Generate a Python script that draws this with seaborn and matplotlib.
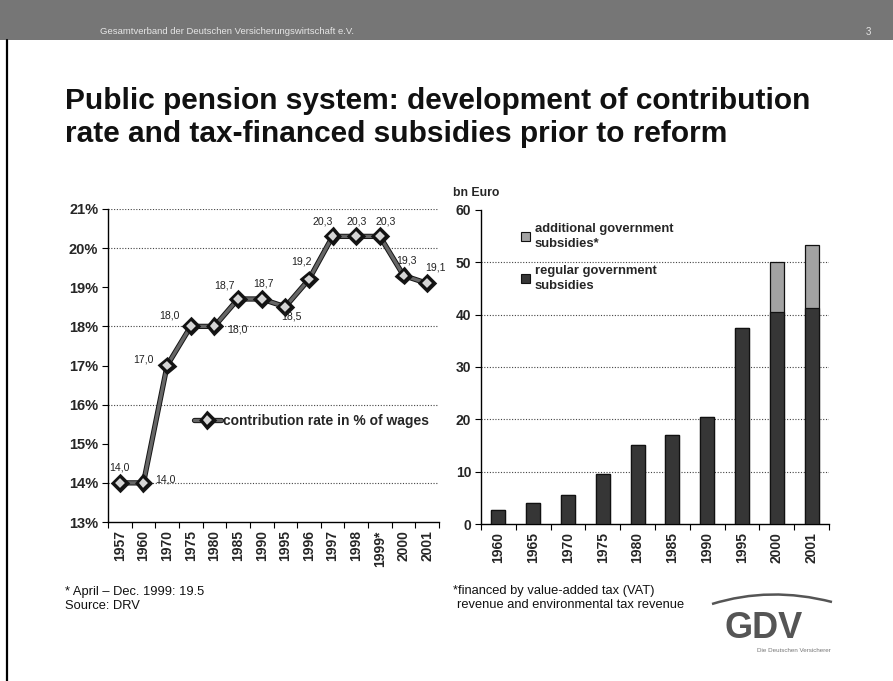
import matplotlib
matplotlib.use("Agg")
import matplotlib.pyplot as plt
import matplotlib.patheffects as pe
from matplotlib.lines import Line2D
from matplotlib.patches import Rectangle, PathPatch
from matplotlib.path import Path
import seaborn as sns
import pandas as pd

sns.set_theme(style="white")
plt.rcParams["font.family"] = ["Liberation Sans", "DejaVu Sans"]

# Contribution rate (% of wages)
rate_years = ["1957", "1960", "1970", "1975", "1980", "1985", "1990", "1995",
              "1996", "1997", "1998", "1999*", "2000", "2001"]
rate_values = [14.0, 14.0, 17.0, 18.0, 18.0, 18.7, 18.7, 18.5,
               19.2, 20.3, 20.3, 20.3, 19.3, 19.1]
rate_label_offsets = [(0, 15), (22, 3), (-24, 6), (-21, 11), (23, -3), (-14, 13),
                      (2, 15), (6, -10), (-8, 18), (-10, 15), (0, 15), (6, 15),
                      (3, 15), (8, 16)]

# Tax-financed subsidies (bn Euro)
subsidy_years = ["1960", "1965", "1970", "1975", "1980", "1985", "1990",
                 "1995", "2000", "2001"]
regular_subsidies = [2.7, 4.1, 5.6, 9.5, 15.1, 17.1, 20.4, 37.5, 40.6, 41.2]
additional_subsidies = [0, 0, 0, 0, 0, 0, 0, 0, 9.4, 12.1]

W, H = 893, 681
fig = plt.figure(figsize=(W / 100, H / 100), dpi=100)
fig.patch.set_facecolor("white")


def fx(px):
    return px / W


def fy(py):
    return 1 - py / H


# Header band
fig.add_artist(Rectangle((0, fy(40)), 1, 40 / H, transform=fig.transFigure,
                         facecolor="#767676", edgecolor="none", zorder=0))
fig.text(fx(100), fy(32), "Gesamtverband der Deutschen Versicherungswirtschaft e.V.",
         fontsize=6.8, color="#e6e6e6", va="center", ha="left")
fig.text(fx(866), fy(32), "3", fontsize=7, color="#e6e6e6", va="center", ha="left")
fig.add_artist(Line2D([fx(7), fx(7)], [0, fy(40)], transform=fig.transFigure,
                      color="black", lw=1.6))

# Title
fig.text(fx(65), fy(101), "Public pension system: development of contribution",
         fontsize=21.5, fontweight="bold", color="#111", va="center", ha="left")
fig.text(fx(65), fy(134), "rate and tax-financed subsidies prior to reform",
         fontsize=21.5, fontweight="bold", color="#111", va="center", ha="left")

# ---------- Left: contribution rate ----------
ax1 = fig.add_axes([fx(108), fy(522), fx(439) - fx(108), fy(209) - fy(522)])
rate_df = pd.DataFrame({"pos": range(len(rate_years)), "rate": rate_values})
sns.lineplot(data=rate_df, x="pos", y="rate", ax=ax1, color="#666666", lw=2.4,
             marker="D", markersize=6, markerfacecolor="#d5d5d5",
             markeredgecolor="#111111", markeredgewidth=1.1,
             label="contribution rate in % of wages",
             path_effects=[pe.Stroke(linewidth=3.8, foreground="#151515"), pe.Normal()])
ax1.set_xlim(-0.5, len(rate_years) - 0.5)
ax1.set_ylim(13, 21)
ax1.set_yticks(range(13, 22))
ax1.set_yticklabels([f"{v}%" for v in range(13, 22)], fontsize=10.5, fontweight="bold")
ax1.set_xticks(range(len(rate_years)))
ax1.set_xticklabels(rate_years, rotation=90, fontsize=10, fontweight="bold")
ax1.set_xticks([i + 0.5 for i in range(-1, len(rate_years))], minor=True)
ax1.tick_params(axis="x", which="major", length=0, pad=6)
ax1.tick_params(axis="x", which="minor", length=4, direction="out", color="black", width=0.8, bottom=True)
ax1.tick_params(axis="y", length=4, direction="out", color="black", width=0.8, left=True, pad=3)
ax1.set_xlabel("")
ax1.set_ylabel("")
for g in [14, 16, 18, 20, 21]:
    ax1.axhline(g, color="#444", lw=0.8, ls=(0, (1, 1.5)), zorder=0)
for s in ["top", "right"]:
    ax1.spines[s].set_visible(False)
for s in ["left", "bottom"]:
    ax1.spines[s].set_color("black")
    ax1.spines[s].set_linewidth(1.0)
for i, (v, off) in enumerate(zip(rate_values, rate_label_offsets)):
    ax1.annotate(f"{v:.1f}".replace(".", ","), (i, v), xytext=off,
                 textcoords="offset pixels", ha="center", va="center",
                 fontsize=7.6, color="#222")
ax1_w = fx(439) - fx(108)
ax1_h = fy(209) - fy(522)
ax1.legend(loc="center left",
           bbox_to_anchor=((fx(188) - fx(108)) / ax1_w, (fy(421) - fy(522)) / ax1_h),
           frameon=False, handlelength=2.0, handletextpad=0.15, borderaxespad=0,
           prop={"weight": "bold", "size": 10})

# ---------- Right: subsidies ----------
ax2 = fig.add_axes([fx(481), fy(524), fx(829) - fx(481), fy(210) - fy(524)])
sub_df = pd.DataFrame({"year": subsidy_years,
                       "regular": regular_subsidies,
                       "total": [r + a for r, a in zip(regular_subsidies, additional_subsidies)]})
sns.barplot(data=sub_df, x="year", y="total", ax=ax2, color="#a3a3a3", width=0.4,
            edgecolor="#111", linewidth=0.9, saturation=1, zorder=2)
sns.barplot(data=sub_df, x="year", y="regular", ax=ax2, color="#363636", width=0.4,
            edgecolor="#111", linewidth=0.9, saturation=1, zorder=3)
ax2.set_xlim(-0.5, len(subsidy_years) - 0.5)
ax2.set_ylim(0, 60)
ax2.set_yticks(range(0, 61, 10))
ax2.set_yticklabels([str(v) for v in range(0, 61, 10)], fontsize=10, fontweight="bold")
ax2.set_xticks(range(len(subsidy_years)))
ax2.set_xticklabels(subsidy_years, rotation=90, fontsize=10, fontweight="bold")
ax2.set_xticks([i + 0.5 for i in range(-1, len(subsidy_years))], minor=True)
ax2.tick_params(axis="x", which="major", length=0, pad=6)
ax2.tick_params(axis="x", which="minor", length=4, direction="out", color="black", width=0.8, bottom=True)
ax2.tick_params(axis="y", length=4, direction="out", color="black", width=0.8, left=True, pad=3)
ax2.set_xlabel("")
ax2.set_ylabel("")
for g in [10, 20, 30, 40, 50]:
    ax2.axhline(g, color="#444", lw=0.8, ls=(0, (1, 1.5)), zorder=1)
for s in ["top", "right"]:
    ax2.spines[s].set_visible(False)
for s in ["left", "bottom"]:
    ax2.spines[s].set_color("black")
    ax2.spines[s].set_linewidth(1.0)
ax2.text(-0.08, 1.055, "bn Euro", transform=ax2.transAxes, fontsize=8.8,
         fontweight="bold", ha="left", va="center")
handles = [Rectangle((0, 0), 1, 1, facecolor="#a3a3a3", edgecolor="#111", lw=0.8),
           Rectangle((0, 0), 1, 1, facecolor="#363636", edgecolor="#111", lw=0.8)]
ax2_w = fx(829) - fx(481)
ax2_h = fy(210) - fy(524)
leg2 = ax2.legend(handles, ["additional government\nsubsidies*", "regular government\nsubsidies"],
                  loc="upper left",
                  bbox_to_anchor=((fx(516) - fx(481)) / ax2_w, (fy(218) - fy(524)) / ax2_h),
                  frameon=False, handlelength=0.7, handleheight=0.7, handletextpad=0.35,
                  labelspacing=1.15, borderaxespad=0, prop={"weight": "bold", "size": 9.4})
for t in leg2.get_texts():
    t.set_linespacing(1.3)

# Footnotes
fig.text(fx(65), fy(592), "* April \u2013 Dec. 1999: 19.5", fontsize=9.3, va="center", color="#111")
fig.text(fx(65), fy(606), "Source: DRV", fontsize=9.3, va="center", color="#111")
fig.text(fx(453), fy(591), "*financed by value-added tax (VAT)", fontsize=9.3, va="center", color="#111")
fig.text(fx(457), fy(605), "revenue and environmental tax revenue", fontsize=9.3, va="center", color="#111")

# GDV mark
fig.text(fx(764), fy(628), "GDV", fontsize=26, fontweight="bold", color="#555",
         ha="center", va="center")
swoosh = Path([(fx(712), fy(604)), (fx(770), fy(586)), (fx(832), fy(602))],
              [Path.MOVETO, Path.CURVE3, Path.CURVE3])
fig.add_artist(PathPatch(swoosh, transform=fig.transFigure, facecolor="none",
                         edgecolor="#555", lw=1.8))
fig.text(fx(757), fy(651), "Die Deutschen Versicherer", fontsize=4.5, color="#777",
         ha="left", va="center")

fig.savefig("out.png", dpi=100, facecolor="white")
